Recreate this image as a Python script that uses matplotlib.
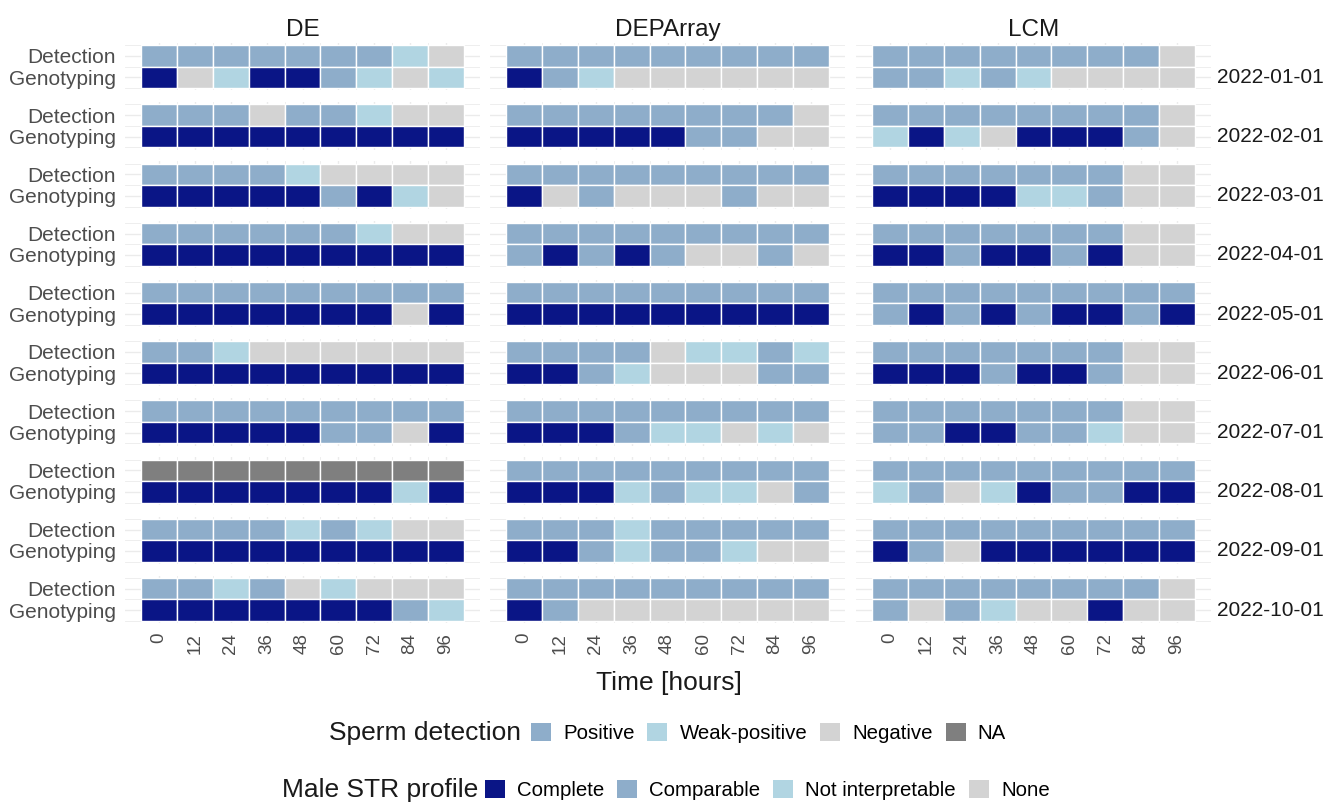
import matplotlib.pyplot as plt
from matplotlib.patches import Patch

plt.rcParams['font.family'] = ['Liberation Sans', 'DejaVu Sans']

times = [0, 12, 24, 36, 48, 60, 72, 84, 96]
methods = ['DE', 'DEPArray', 'LCM']
dates = ['2022-01-01', '2022-02-01', '2022-03-01', '2022-04-01', '2022-05-01',
         '2022-06-01', '2022-07-01', '2022-08-01', '2022-09-01', '2022-10-01']

# sperm detection per time point: P = Positive, W = Weak-positive, N = Negative, X = NA
detection_de = ['PPPPPPPWN', 'PPPNPPWNN', 'PPPPWNNNN', 'PPPPPPWNN', 'PPPPPPPPP',
                'PPWNNNNNN', 'PPPPPPPPP', 'XXXXXXXXX', 'PPPPWPWNN', 'PPWPNWNNN']
detection_deparray = ['PPPPPPPPP', 'PPPPPPPPN', 'PPPPPPPPP', 'PPPPPPPPP', 'PPPPPPPPP',
                      'PPPPNWWPW', 'PPPPPPPPP', 'PPPPPPPPP', 'PPPWPPPPP', 'PPPPPPPPP']
detection_lcm = ['PPPPPPPPN', 'PPPPPPPPN', 'PPPPPPPNN', 'PPPPPPPNN', 'PPPPPPPPP',
                 'PPPPPPPNN', 'PPPPPPPNN', 'PPPPPPPPP', 'PPPPPPPPP', 'PPPPPPPPN']

# male STR profile: C = Complete, M = Comparable, I = Not interpretable, O = None
genotyping_de = ['COICCMIOI', 'CCCCCCCCC', 'CCCCCMCIO', 'CCCCCCCCC', 'CCCCCCCOC',
                 'CCCCCCCCC', 'CCCCCMMOC', 'CCCCCCCIC', 'CCCCCCCCC', 'CCCCCCCMI']
genotyping_deparray = ['CMIOOOOOO', 'CCCCCMMOO', 'COMOOOMOO', 'MCMCMOOMO', 'CCCCCCCCC',
                       'CCMIOOOMM', 'CCCMIIOIO', 'CCCIMIIOM', 'CCMIMMIOO', 'CMOOOOOOO']
genotyping_lcm = ['MMIMIOOOO', 'ICIOCCCMO', 'CCCCIIMOO', 'CCMCCMCOO', 'MCMCMCCMC',
                  'CCCMCCMOO', 'MMCCMMIOO', 'IMOICMMCC', 'CMOCCCCCC', 'MOMIOOCOO']

detection = {'DE': detection_de, 'DEPArray': detection_deparray, 'LCM': detection_lcm}
genotyping = {'DE': genotyping_de, 'DEPArray': genotyping_deparray, 'LCM': genotyping_lcm}

det_labels = {'P': 'Positive', 'W': 'Weak-positive', 'N': 'Negative', 'X': 'NA'}
gen_labels = {'C': 'Complete', 'M': 'Comparable', 'I': 'Not interpretable', 'O': 'None'}
det_colors = {'P': '#8EADCA', 'W': '#B1D5E2', 'N': '#D3D3D3', 'X': '#7F7F7F'}
gen_colors = {'C': '#0A1586', 'M': '#8EADCA', 'I': '#B1D5E2', 'O': '#D3D3D3'}

W, H = 1328, 802
fig = plt.figure(figsize=(W / 100, H / 100), dpi=100)

panel_left = [125, 490, 856]
panel_w = 355
top0 = 43
row_step = 59.2
panel_h = 47.3
grid_col = '#EBEBEB'

for j, method in enumerate(methods):
    for i, date in enumerate(dates):
        top = top0 + i * row_step
        ax = fig.add_axes([panel_left[j] / W, 1 - (top + panel_h) / H,
                           panel_w / W, panel_h / H])
        det = detection[method][i]
        gen = genotyping[method][i]
        ax.bar(times, 1, bottom=1.5, width=12, color=[det_colors[c] for c in det],
               edgecolor='white', linewidth=1, zorder=2)
        ax.bar(times, 1, bottom=0.5, width=12, color=[gen_colors[c] for c in gen],
               edgecolor='white', linewidth=1, zorder=2)
        ax.set_xlim(-11.4, 107.4)
        ax.set_ylim(0.4, 2.6)
        ax.set_xticks(times)
        ax.set_xticks([t + 6 for t in times[:-1]], minor=True)
        ax.set_yticks([1, 2])
        ax.set_yticks([0.5, 1.5, 2.5], minor=True)
        ax.set_axisbelow(True)
        ax.grid(which='major', color=grid_col, linewidth=1.0, zorder=0)
        ax.grid(which='minor', color=grid_col, linewidth=0.6, zorder=0)
        for s in ax.spines.values():
            s.set_visible(False)
        ax.tick_params(which='both', length=0)
        if j == 0:
            ax.set_yticklabels(['Genotyping', 'Detection'], fontsize=15, color='#4D4D4D')
            ax.tick_params(axis='y', pad=6.5)
        else:
            ax.set_yticklabels([])
        if i == len(dates) - 1:
            ax.set_xticklabels([str(t) for t in times], rotation=90, fontsize=13.5,
                               color='#4D4D4D', ha='center', va='top')
            ax.tick_params(axis='x', pad=7)
        else:
            ax.set_xticklabels([])
        if i == 0:
            ax.set_title(method, fontsize=17.5, color='#1A1A1A', pad=5)
        if j == len(methods) - 1:
            ax.text(1.017, 1, date, transform=ax.get_yaxis_transform(), fontsize=15,
                    color='#1A1A1A', ha='left', va='center')

fig.text(668.5 / W, 1 - 683 / H, 'Time [hours]', ha='center', va='center',
         fontsize=19, color='#1A1A1A')

# legends: title on the left, keys in one row
det_keys = ['P', 'W', 'N', 'X']
gen_keys = ['C', 'M', 'I', 'O']
leg_kw = dict(loc='center left', ncol=4, frameon=False, fontsize=14.7,
              handlelength=0.98, handleheight=0.98, handletextpad=0.6,
              columnspacing=0.62, borderpad=0, borderaxespad=0)

fig.text(521 / W, 1 - 733 / H, 'Sperm detection', ha='right', va='center',
         fontsize=19, color='#1A1A1A')
fig.legend([Patch(facecolor=det_colors[k], edgecolor='none') for k in det_keys],
           [det_labels[k] for k in det_keys],
           bbox_to_anchor=(531 / W, 1 - 733 / H), **leg_kw)

fig.text(478 / W, 1 - 790 / H, 'Male STR profile', ha='right', va='center',
         fontsize=19, color='#1A1A1A')
fig.legend([Patch(facecolor=gen_colors[k], edgecolor='none') for k in gen_keys],
           [gen_labels[k] for k in gen_keys],
           bbox_to_anchor=(485 / W, 1 - 790 / H), **leg_kw)

fig.savefig('out.png', dpi=100)
